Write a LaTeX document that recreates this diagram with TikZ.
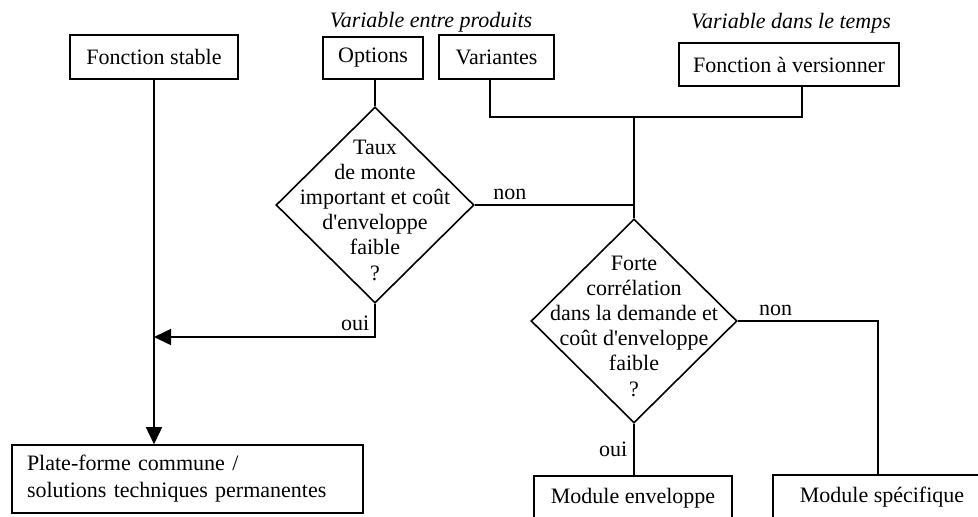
\documentclass[tikz,border=0pt]{standalone}
\usepackage{fontspec}
\setmainfont{Liberation Serif}
\usetikzlibrary{shapes.geometric,arrows.meta}

\begin{document}
\begin{tikzpicture}[x=0.5pt, y=-0.5pt, >={Triangle[length=8.5pt,width=8pt]}, line width=0.8pt,
		every node/.style={font=\fontsize{11}{12.6}\selectfont},
		boite/.style={draw, inner sep=0pt, minimum height=22pt},
		losange/.style={draw, diamond, inner sep=0pt},
		titre/.style={font=\fontsize{11}{12.6}\selectfont\itshape}]
	\useasboundingbox (0,0) rectangle (978,516);

	% fonctions en haut
	\node[boite, minimum width=84pt] (stable) at (154,57) {Fonction stable};
	\node[boite, minimum width=50pt, minimum height=21pt] (options) at (373,58) {Options};
	\node[boite, minimum width=57.5pt] (variantes) at (496.5,57) {Variantes};
	\node[boite, minimum width=110pt, minimum height=21.5pt] (versionner) at (789,64.5) {Fonction à versionner};
	\node[titre] (produits) at (431,22) {Variable entre produits};
	\node[titre] (temps) at (791,23) {Variable dans le temps};

	% tests
	\node[losange, minimum width=99pt, minimum height=98pt] (taux) at (375,205) {};
	\node[align=center] (tauxtxt) at (375,210) {Taux\\de monte\\important et coût\\d\textquotesingle enveloppe\\faible\\?};
	\node[losange, minimum width=103pt, minimum height=102pt] (correl) at (634,321) {};
	\node[align=center] (correltxt) at (634,326) {Forte\\corrélation\\dans la demande et\\coût d\textquotesingle enveloppe\\faible\\?};

	% resultats
	\node[draw, font=\fontsize{11}{13.5}\selectfont, minimum height=34pt, text width=160.5pt, inner xsep=7.5pt, align=left] (plateforme) at (187.5,479) {Plate-forme commune /\\solutions techniques permanentes};
	\node[boite, minimum width=99pt] (enveloppe) at (633,498) {Module enveloppe};
	\node[boite, minimum width=109pt] (specifique) at (882,497) {Module spécifique};

	\coordinate (jv) at (490,117);
	\coordinate (jc) at (634,117);
	\coordinate (jr) at (802,117);
	\coordinate (jo) at (154,337);
	\coordinate (js) at (878,321);

	\draw (variantes.south -| jv) -- (jv) -- (jr) -- (versionner.south -| jr);
	\draw (jc) -- (correl.north);
	\draw (options.south -| taux.north) -- (taux.north);
	\draw (taux.east) -- (taux.east -| jc) node[pos=0.22, above, inner sep=2pt] {non};
	\draw[->] (taux.south) |- (jo) node[pos=0.5, above left, inner sep=2.5pt] {oui};
	\draw[->] (stable) -- (plateforme.north -| stable);
	\draw (correl.south) -- (enveloppe.north -| correl.south) node[midway, left, inner sep=3pt] {oui};
	\draw (correl.east) -- (js) node[pos=0.27, above, inner sep=2pt] {non} -- (specifique.north -| js);
\end{tikzpicture}
\end{document}
